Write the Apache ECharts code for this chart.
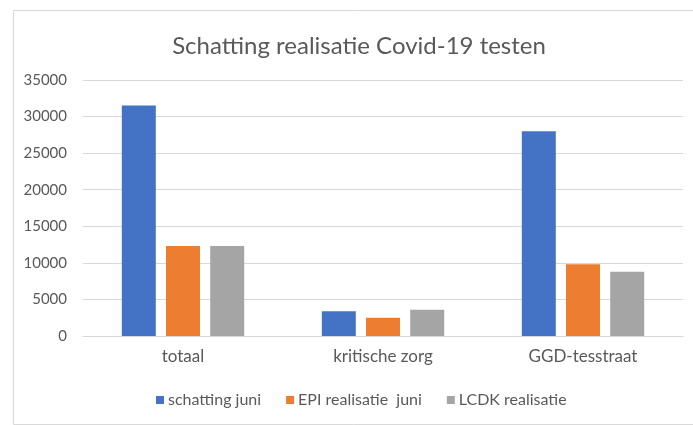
<!DOCTYPE html>
<html>
<head>
<meta charset="utf-8">
<script src="https://cdn.jsdelivr.net/npm/echarts@6/dist/echarts.min.js"></script>
<style>
  html, body { margin: 0; padding: 0; background: #fff; }
  #chart { width: 693px; height: 425px; }
</style>
</head>
<body>
<div id="chart"></div>
<script>
const categories = ['totaal', 'kritische zorg', 'GGD-tesstraat']
const schattingJuni = [31500, 3400, 28000]
const epiRealisatie = [12300, 2500, 9800]
const lcdkRealisatie = [12300, 3600, 8800]
const seriesNames = ['schatting juni', 'EPI realisatie  juni', 'LCDK realisatie']

const color = ['#4472C4', '#ED7D31', '#A5A5A5']
const textColor = '#595959'
const fontFamily = 'Lato'

const chart = echarts.init(document.getElementById('chart'))

const barSeries = [schattingJuni, epiRealisatie, lcdkRealisatie].map((data, i) => ({
  name: seriesNames[i],
  type: 'bar',
  barWidth: 34,
  barGap: '30%',
  itemStyle: { color: color[i] },
  data: data
}))

chart.setOption({
  backgroundColor: '#fff',
  color: color,
  animation: false,
  textStyle: { fontFamily: fontFamily },
  title: {
    text: 'Schatting realisatie Covid-19 testen',
    left: 354,
    textAlign: 'center',
    top: 29,
    textStyle: {
      color: textColor,
      fontFamily: fontFamily,
      fontSize: 24,
      fontWeight: 'normal'
    }
  },
  legend: {
    top: 387,
    left: 151,
    itemWidth: 8,
    itemHeight: 8,
    itemGap: 25,
    icon: 'rect',
    textStyle: { color: textColor, fontFamily: fontFamily, fontSize: 16, padding: [0, 0, 0, -1] },
    data: seriesNames
  },
  grid: {
    left: 83,
    right: 10,
    top: 80,
    bottom: 89
  },
  graphic: [{
    type: 'rect',
    left: 11,
    top: 8,
    shape: { width: 700, height: 414 },
    style: { fill: 'none', stroke: '#d9d9d9', lineWidth: 1 },
    silent: true
  }],
  xAxis: {
    type: 'category',
    data: categories,
    axisLine: { lineStyle: { color: '#d9d9d9' } },
    axisTick: { show: false },
    axisLabel: { color: textColor, fontFamily: fontFamily, fontSize: 17, margin: 12 }
  },
  yAxis: {
    type: 'value',
    min: 0,
    max: 35000,
    interval: 5000,
    axisLine: { show: false },
    axisTick: { show: false },
    axisLabel: { color: textColor, fontFamily: fontFamily, fontSize: 15, margin: 16, formatter: v => String(v) },
    splitLine: { lineStyle: { color: '#d9d9d9' } }
  },
  series: barSeries
})
</script>
</body>
</html>
